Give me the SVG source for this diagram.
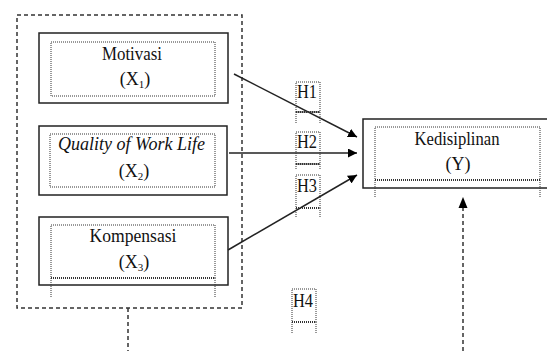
<svg xmlns="http://www.w3.org/2000/svg" width="547" height="351" viewBox="0 0 547 351">
<defs>
<marker id="ah" viewBox="0 0 10 10" refX="10" refY="5" markerWidth="9" markerHeight="9" markerUnits="userSpaceOnUse" orient="auto"><path d="M0,0 L10,5 L0,10 z" fill="#000"/></marker>
<style>
.box{fill:#fff;stroke:#222;stroke-width:1.5}
.dot{fill:none;stroke:#333;stroke-width:1;stroke-dasharray:1,1}
.dbl{fill:none;stroke:#333;stroke-width:2;stroke-dasharray:1,1}
.dash{fill:none;stroke:#333;stroke-width:1.5;stroke-dasharray:4,3}
.t{font-family:"Liberation Serif","Times New Roman",serif;font-size:18px;fill:#111;text-anchor:middle}
.it{font-style:italic}
.sub{font-size:11px}
.conn{stroke:#222;stroke-width:1.5;fill:none;marker-end:url(#ah)}
</style>
</defs>
<rect width="547" height="351" fill="#fff"/>
<g id="group-x">
<rect class="dash" x="17" y="15" width="225" height="293"/>
<line class="dash" x1="128" y1="308" x2="128" y2="351"/>
</g>
<g id="node-x1">
<rect class="box" x="39" y="33" width="189" height="70"/>
<rect class="dot" x="51" y="42" width="164" height="54"/>
<text class="t" x="132" y="60" textLength="60" lengthAdjust="spacingAndGlyphs">Motivasi</text>
<text class="t" x="135" y="85">(X<tspan class="sub" dy="3">1</tspan><tspan dy="-3">)</tspan></text>
</g>
<g id="node-x2">
<rect class="box" x="39" y="126" width="188" height="69"/>
<rect class="dot" x="50" y="134" width="165" height="53"/>
<text class="t it" x="131.5" y="150" textLength="147" lengthAdjust="spacingAndGlyphs">Quality of Work Life</text>
<text class="t" x="134" y="177">(X<tspan class="sub" dy="3">2</tspan><tspan dy="-3">)</tspan></text>
</g>
<g id="node-x3">
<rect class="box" x="39" y="217" width="189" height="68"/>
<rect class="dot" x="51" y="225" width="164" height="53"/>
<line class="dbl" x1="51" y1="278" x2="215" y2="278"/>
<line class="dot" x1="51" y1="278" x2="51" y2="297"/>
<line class="dot" x1="215" y1="278" x2="215" y2="297"/>
<text class="t" x="133" y="242" textLength="87" lengthAdjust="spacingAndGlyphs">Kompensasi</text>
<text class="t" x="134" y="268">(X<tspan class="sub" dy="3">3</tspan><tspan dy="-3">)</tspan></text>
</g>
<g id="node-y">
<rect class="box" x="363" y="119" width="190" height="69"/>
<rect class="dot" x="375" y="127" width="165" height="53"/>
<line class="dbl" x1="375" y1="180" x2="540" y2="180"/>
<line class="dot" x1="375" y1="180" x2="375" y2="198"/>
<line class="dot" x1="540" y1="180" x2="540" y2="198"/>
<text class="t" x="457" y="145" textLength="85" lengthAdjust="spacingAndGlyphs">Kedisiplinan</text>
<text class="t" x="458" y="170">(Y)</text>
</g>
<g id="connectors">
<line class="conn" x1="234" y1="74" x2="357" y2="137"/>
<line class="conn" x1="229" y1="153" x2="357" y2="153"/>
<line class="conn" x1="228" y1="250" x2="357" y2="175"/>
<line class="dash" x1="463" y1="351" x2="463" y2="206"/>
<path d="M458.5,208 L463,197 L467.5,208 z" fill="#000"/>
</g>
<g id="label-h1">
<rect class="dot" x="296" y="82" width="24" height="30"/>
<line class="dbl" x1="296" y1="112" x2="320" y2="112"/>
<line class="dot" x1="296" y1="112" x2="296" y2="123"/>
<line class="dot" x1="320" y1="112" x2="320" y2="123"/>
<text class="t" x="307" y="98" textLength="20" lengthAdjust="spacingAndGlyphs">H1</text>
</g>
<g id="label-h2">
<rect class="dot" x="296" y="132" width="24" height="32"/>
<line class="dbl" x1="296" y1="164" x2="320" y2="164"/>
<line class="dot" x1="296" y1="164" x2="296" y2="169"/>
<line class="dot" x1="320" y1="164" x2="320" y2="169"/>
<text class="t" x="307" y="148" textLength="20" lengthAdjust="spacingAndGlyphs">H2</text>
</g>
<g id="label-h3">
<rect class="dot" x="296" y="175" width="24" height="33"/>
<line class="dbl" x1="296" y1="208" x2="320" y2="208"/>
<line class="dot" x1="296" y1="208" x2="296" y2="218"/>
<line class="dot" x1="320" y1="208" x2="320" y2="218"/>
<text class="t" x="307" y="192" textLength="20" lengthAdjust="spacingAndGlyphs">H3</text>
</g>
<g id="label-h4">
<rect class="dot" x="292" y="289" width="24" height="33"/>
<line class="dbl" x1="292" y1="322" x2="316" y2="322"/>
<line class="dot" x1="292" y1="322" x2="292" y2="333"/>
<line class="dot" x1="316" y1="322" x2="316" y2="333"/>
<text class="t" x="303" y="307" textLength="20" lengthAdjust="spacingAndGlyphs">H4</text>
</g>
</svg>
